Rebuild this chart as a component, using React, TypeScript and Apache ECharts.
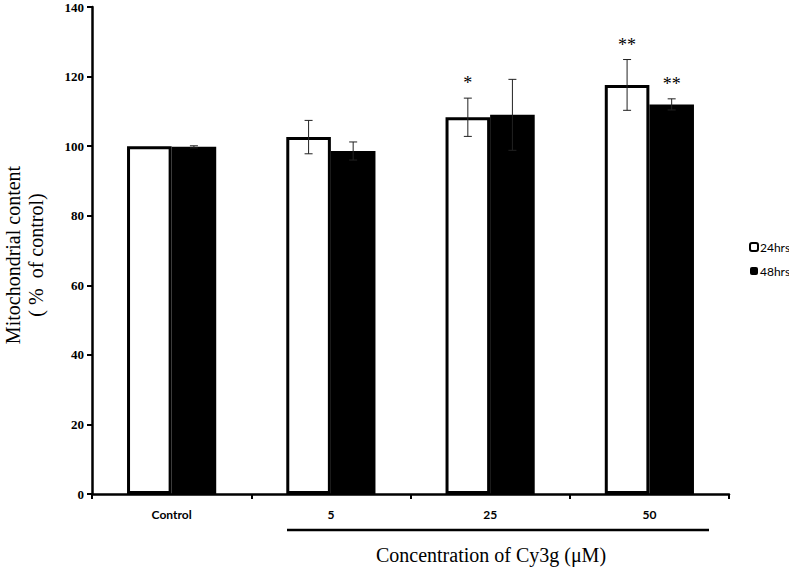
import React, { useEffect, useRef } from "react";
import * as echarts from "echarts";

const categories = ["Control", "5", "25", "50"];
const values24 = [100, 102.6, 108.3, 117.6];
const errors24 = [0, 4.8, 5.5, 7.3];
const sig24 = ["", "", "*", "**"];
const values48 = [99.8, 98.6, 109.0, 112.0];
const errors48 = [0.3, 2.6, 10.2, 1.6];
const sig48 = ["", "", "", "**"];
const seriesNames = ["24hrs", "48hrs"];
const yTicks = { min: 0, max: 140, interval: 20 };

const SERIF = "'Liberation Serif', 'Times New Roman', serif";
const SANS = "Lato, 'Liberation Sans', sans-serif";

function errorSeries(name: string, vals: number[], errs: number[], sigs: string[], side: number) {
  return {
    type: "custom",
    name: name + " err",
    z: 10,
    encode: { x: 0, y: 1 },
    data: vals.map((v, i) => [i, v, errs[i], sigs[i]]),
    renderItem: (params: any, api: any) => {
      const idx = api.value(0);
      const v = api.value(1);
      const e = api.value(2);
      const s = sigs[params.dataIndex];
      const band = api.size([1, 0])[0];
      const off = side * band * 0.14;
      const top = api.coord([idx, v + e]);
      const bot = api.coord([idx, v - e]);
      const x = top[0] + off;
      const cap = 4;
      const style = { stroke: "#222", lineWidth: 1 };
      const children: any[] = [];
      if (e > 0) {
        children.push(
          { type: "line", shape: { x1: x, y1: top[1], x2: x, y2: bot[1] }, style },
          { type: "line", shape: { x1: x - cap, y1: top[1], x2: x + cap, y2: top[1] }, style },
          { type: "line", shape: { x1: x - cap, y1: bot[1], x2: x + cap, y2: bot[1] }, style }
        );
      }
      if (s) {
        children.push({
          type: "text",
          style: {
            text: s,
            x: x,
            y: top[1] - 6,
            fill: "#000",
            font: "18px " + SERIF,
            textAlign: "center",
            textVerticalAlign: "bottom",
          },
        });
      }
      return { type: "group", children };
    },
  };
}

export default function App() {
  const ref = useRef<HTMLDivElement>(null);
  useEffect(() => {
    if (!ref.current) return;
    const chart = echarts.init(ref.current, null, { renderer: "svg" });
    chart.setOption({
      animation: false,
      backgroundColor: "#fff",
      grid: { left: 92, right: 60, top: 7, bottom: 73 },
      legend: {
        orient: "vertical",
        left: 749,
        top: 241,
        padding: 0,
        itemWidth: 8,
        itemHeight: 8,
        itemGap: 12,
        textStyle: { fontFamily: SANS, fontSize: 12, color: "#000", padding: [0, 0, 0, -3] },
        data: [
          { name: seriesNames[0], itemStyle: { color: "#fff", borderColor: "#000", borderWidth: 2 } },
          { name: seriesNames[1], itemStyle: { color: "#000", borderWidth: 0 } },
        ],
      },
      xAxis: {
        type: "category",
        data: categories,
        axisLine: { lineStyle: { color: "#000", width: 2.5 } },
        axisTick: { show: true, length: 5, lineStyle: { color: "#000", width: 2 } },
        axisLabel: { color: "#000", fontFamily: SANS, fontWeight: "bold", fontSize: 12, margin: 14 },
      },
      yAxis: {
        type: "value",
        min: yTicks.min,
        max: yTicks.max,
        interval: yTicks.interval,
        axisLine: { show: true, lineStyle: { color: "#000", width: 2.5 } },
        axisTick: { show: true, length: 5, lineStyle: { color: "#000", width: 2 } },
        splitLine: { show: false },
        axisLabel: { color: "#000", fontFamily: SERIF, fontWeight: "bold", fontSize: 13, margin: 8 },
      },
      series: [
        {
          type: "bar",
          name: seriesNames[0],
          data: values24,
          barGap: "0%",
          barCategoryGap: "44%",
          itemStyle: { color: "#fff", borderColor: "#000", borderWidth: 3 },
        },
        {
          type: "bar",
          name: seriesNames[1],
          data: values48,
          barGap: "0%",
          barCategoryGap: "44%",
          itemStyle: { color: "#000", borderColor: "#000", borderWidth: 3 },
        },
        errorSeries(seriesNames[0], values24, errors24, sig24, -1),
        errorSeries(seriesNames[1], values48, errors48, sig48, 1),
      ],
      graphic: [
        {
          type: "text",
          x: 13,
          y: 255,
          rotation: Math.PI / 2,
          style: {
            text: "Mitochondrial content",
            font: "20px " + SERIF,
            fill: "#000",
            textAlign: "center",
            textVerticalAlign: "middle",
          },
        },
        {
          type: "text",
          x: 36,
          y: 255,
          rotation: Math.PI / 2,
          style: {
            text: "( %  of control)",
            font: "20px " + SERIF,
            fill: "#000",
            textAlign: "center",
            textVerticalAlign: "middle",
          },
        },
        {
          type: "line",
          shape: { x1: 287, y1: 530, x2: 709, y2: 530 },
          style: { stroke: "#000", lineWidth: 2.5 },
        },
        {
          type: "text",
          x: 491,
          y: 555,
          style: {
            text: "Concentration of Cy3g (μM)",
            font: "20px " + SERIF,
            fill: "#000",
            textAlign: "center",
            textVerticalAlign: "middle",
          },
        },
      ],
    });
    return () => chart.dispose();
  }, []);
  return <div ref={ref} style={{ width: 789, height: 567, position: "absolute", left: 0, top: 0 }} />;
}
